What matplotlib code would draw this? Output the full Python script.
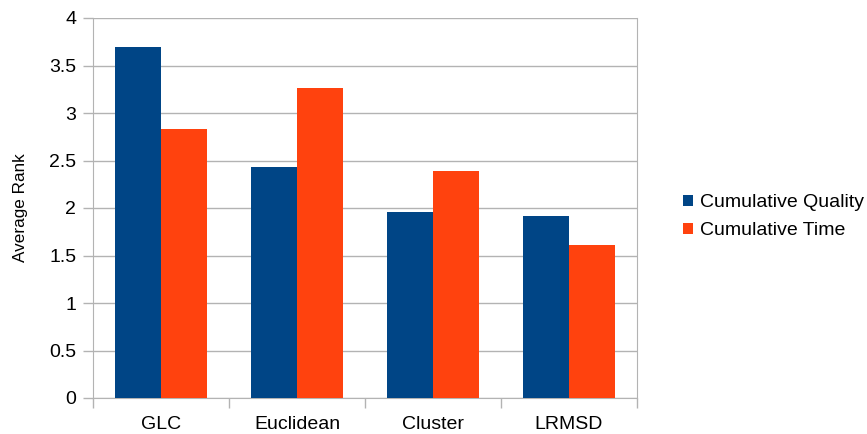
import numpy as np
import matplotlib
matplotlib.use('Agg')
import matplotlib.pyplot as plt

plt.rcParams['font.family'] = ['Liberation Sans', 'DejaVu Sans']

categories = ['GLC', 'Euclidean', 'Cluster', 'LRMSD']
quality = [3.70, 2.43, 1.96, 1.92]
time_rank = [2.83, 3.26, 2.39, 1.61]

qualityColor = '#004586'
timeColor = '#ff420e'
gridColor = '#b3b3b3'

fig = plt.figure(figsize=(8.67, 4.34), dpi=100)
ax = fig.add_axes([93/867, 36/434, 544/867, 380/434])

x = np.arange(len(categories))
w = 0.338
ax.bar(x - w/2, quality, w, color=qualityColor, label='Cumulative Quality', zorder=3)
ax.bar(x + w/2, time_rank, w, color=timeColor, label='Cumulative Time', zorder=3)

ax.set_xlim(-0.5, len(categories) - 0.5)
ax.set_ylim(0, 4)
ax.set_yticks(np.arange(0, 4.01, 0.5))
ax.set_yticklabels(['0', '0.5', '1', '1.5', '2', '2.5', '3', '3.5', '4'])
ax.yaxis.grid(True, color=gridColor, linewidth=1, zorder=0)

# category labels at centres, tick marks at boundaries
ax.set_xticks(x)
ax.set_xticklabels(categories)
ax.tick_params(axis='x', length=0, pad=13, labelsize=14)
ax.set_xticks(np.arange(-0.5, len(categories), 1), minor=True)
ax.tick_params(axis='x', which='minor', length=7, color=gridColor, width=1)
ax.tick_params(axis='y', length=7, color=gridColor, width=1, labelsize=14, pad=5)

for s in ['left', 'right', 'bottom']:
    ax.spines[s].set_color(gridColor)
ax.spines['top'].set_visible(False)

ax.set_ylabel('Average Rank', fontsize=12.3, labelpad=15)

leg = ax.legend(loc='center left', bbox_to_anchor=(1.052, 0.477), frameon=False,
                fontsize=14, handlelength=0.52, handleheight=0.52, handletextpad=0.36,
                labelspacing=0.55)

fig.savefig('out.png', dpi=100)
